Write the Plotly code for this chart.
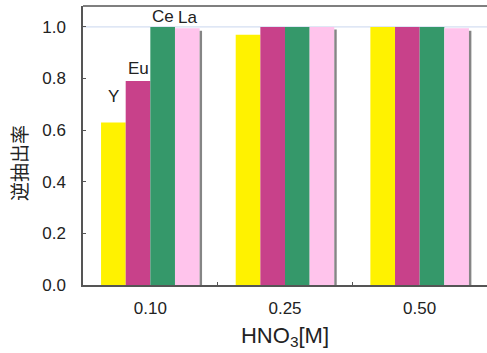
import plotly.graph_objects as go

categories = ["0.10", "0.25", "0.50"]
series_names = ["Y", "Eu", "Ce", "La"]
y_vals = [0.63, 0.97, 1.0]
eu_vals = [0.79, 1.0, 1.0]
ce_vals = [1.0, 1.0, 1.0]
la_vals = [0.995, 1.0, 0.995]
colors = ["#FFF200", "#C8418A", "#35986A", "#FFC4EC"]

series = [y_vals, eu_vals, ce_vals, la_vals]
x_idx = list(range(len(categories)))

bar_w = 0.183
offsets = [-0.366, -0.183, 0.0, 0.183]
label_shift = [14, 1, -1, -1]

fig = go.Figure()
for name, vals, col, off, sh in zip(series_names, series, colors, offsets, label_shift):
    fig.add_trace(go.Bar(
        x=x_idx, y=vals, name=name, marker=dict(color=col, line=dict(width=0)),
        width=bar_w, offset=off, showlegend=False,
    ))
    # series name above the bar of the first category
    fig.add_annotation(x=x_idx[0] + off + bar_w / 2, y=vals[0], text=name,
                       showarrow=False, yanchor="bottom", yshift=sh,
                       font=dict(family="Liberation Sans, Arial", size=17, color="#222"))
# shadow strip at the right of each group
fig.add_trace(go.Bar(
    x=x_idx, y=[v - 0.01 for v in la_vals], marker=dict(color="#858585", line=dict(width=0)),
    width=0.018, offset=0.366, showlegend=False, hoverinfo="skip",
))

fig.add_hline(y=1.0, line=dict(color="#C9D6EE", width=1), layer="below")
fig.add_shape(type="line", xref="paper", yref="paper", x0=0, x1=1, y0=1, y1=1,
              line=dict(color="#555", width=1.5))

fig.add_annotation(text="逆抽出率", xref="paper", yref="paper", x=-0.161, y=0.437,
                   xanchor="center", yanchor="middle",
                   textangle=-90, showarrow=False,
                   font=dict(family="Noto Sans CJK JP", size=19, color="#222"))

fig.update_layout(
    width=487, height=353, barmode="overlay",
    margin=dict(l=83, r=0, t=6, b=68),
    plot_bgcolor="white", paper_bgcolor="white",
    font=dict(family="Liberation Sans, Arial", size=17, color="#222"),
    xaxis=dict(
        tickmode="array", tickvals=x_idx, ticktext=categories,
        range=[-0.5, 2.5], showgrid=False, zeroline=False,
        showline=True, linecolor="#555", linewidth=1.5,
        ticks="", ticklabelstandoff=7,
        title=dict(text="HNO<sub>3</sub>[M]", font=dict(size=22), standoff=10),
        minor=dict(tickvals=[0.5, 1.5], ticks="inside", ticklen=3, tickcolor="#555"),
    ),
    yaxis=dict(
        range=[0, 1.081], tickvals=[0, 0.2, 0.4, 0.6, 0.8, 1.0], tickformat=".1f",
        showgrid=False, zeroline=False, showline=True, linecolor="#555", linewidth=1.5,
        ticks="inside", ticklen=3, tickcolor="#555", ticklabelstandoff=12,
    ),
)

fig.write_html("out.html")
